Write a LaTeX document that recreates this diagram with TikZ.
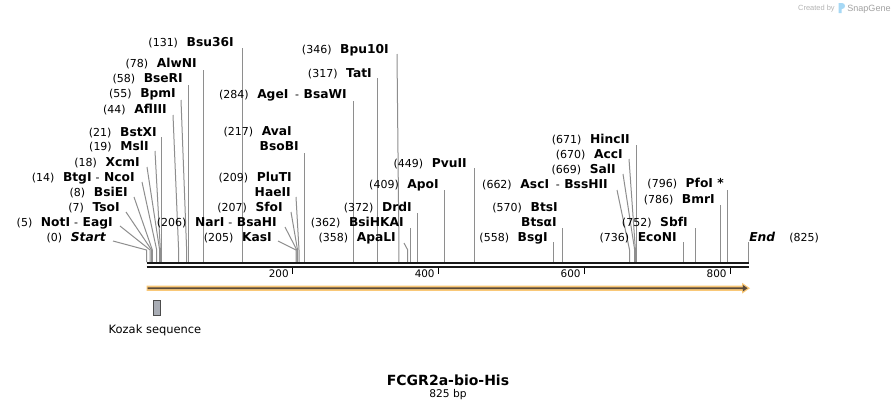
\documentclass[tikz,border=0pt]{standalone}
\usepackage{fontspec}
\setmainfont{DejaVu Sans}
\newfontfamily\libsans{Liberation Sans}
\definecolor{cutgray}{HTML}{8E8E8E}
\definecolor{featorange}{HTML}{F9C878}
\definecolor{featdark}{HTML}{5A4A3A}
\definecolor{kozakfill}{HTML}{A9ADB5}
\definecolor{logogray}{HTML}{B4B4B4}
\definecolor{logoblue}{HTML}{A6D8F5}
\newcommand\nm[1]{{\fontsize{9.2}{10}\selectfont\bfseries #1}}
\newcommand\vcut[3]{%
  \coordinate (t#1) at ({146.5+#2*0.7297},#3);
  \coordinate (b#1) at ({146.5+#2*0.7297},262);
  \draw[cutline] (t#1) -- (b#1);}
\newcommand\scut[4]{%
  \coordinate (t#1) at (#3,#4);
  \coordinate (m#1) at ({146.5+#2*0.7297},250);
  \coordinate (b#1) at ({146.5+#2*0.7297},262);
  \draw[cutline] (t#1) -- (m#1) -- (b#1);}
\newcommand\enz[5]{%
  \node[lab] (l#1) at (#4,{#5+4.3}) {(#2)\hspace{6.5pt}#3};}
\newcommand\sub[4]{%
  \node[lab] (l#1) at (#3,{#4+4.3}) {\nm{#2}};}
\begin{document}
\begin{tikzpicture}[x=0.75pt,y=-0.75pt,
  lab/.style={anchor=base east,inner sep=0pt,font=\fontsize{8.25}{10}\selectfont},
  cutline/.style={draw=cutgray,line width=0.75pt},
  barline/.style={draw=black!90,line width=1.9pt},
  ticks/.style={draw=black,line width=1.1pt},
  ticklab/.style={anchor=base east,inner sep=0pt,font=\fontsize{7.8}{9}\selectfont},
]
\useasboundingbox (0,0) rectangle (896,411);
\fill[white] (0,0) rectangle (896,411);

% ---- cut lines ----
\vcut{bsu}{131}{48}
\vcut{alw}{78}{70}
\vcut{bse}{58}{85}
\scut{bpm}{55}{181}{100}
\scut{afl}{44}{173}{115}
\vcut{bst}{21}{137}
\scut{msl}{19}{155}{151}
\scut{xcm}{18}{147}{167}
\scut{btg}{14}{142}{182}
\scut{bsie}{8}{134}{197}
\scut{tso}{7}{126}{212}
\scut{not}{5}{120}{226}
\scut{start}{0}{113}{241}
\scut{bpu}{346}{397}{54}
\vcut{tat}{317}{78}
\vcut{age}{284}{101}
\vcut{ava}{217}{153}
\scut{plu}{209}{296}{197}
\scut{sfo}{207}{291}{212}
\scut{nar}{206}{285}{227}
\scut{kas}{205}{278}{241}
\vcut{pvu}{449}{168}
\vcut{apo}{409}{190}
\vcut{drd}{372}{213}
\vcut{bsih}{362}{228}
\scut{apa}{358}{404}{243}
\vcut{hinc}{671}{145}
\scut{acc}{670}{629}{159}
\scut{sal}{669}{623}{174}
\scut{asc}{662}{617}{190}
\vcut{bts}{570}{228}
\vcut{bsg}{558}{242}
\vcut{pfo}{796}{190}
\vcut{bmr}{786}{205}
\vcut{sbf}{752}{228}
\vcut{eco}{736}{242}
\vcut{end}{825}{242}

% ---- labels ----
\enz{bsu}{131}{\nm{Bsu36I}}{234}{42}
\enz{alw}{78}{\nm{AlwNI}}{197}{63}
\enz{bse}{58}{\nm{BseRI}}{183}{78}
\enz{bpm}{55}{\nm{BpmI}}{176}{93}
\enz{afl}{44}{\nm{AflIII}}{167}{109}
\enz{bst}{21}{\nm{BstXI}}{157}{132}
\enz{msl}{19}{\nm{MslI}}{149}{146}
\enz{xcm}{18}{\nm{XcmI}}{140}{162}
\enz{btg}{14}{\nm{BtgI}\hspace{3pt}-\hspace{3.5pt}\nm{NcoI}}{135}{177}
\enz{bsie}{8}{\nm{BsiEI}}{128}{192}
\enz{tso}{7}{\nm{TsoI}}{120}{207}
\enz{not}{5}{\nm{NotI}\hspace{3pt}-\hspace{3.5pt}\nm{EagI}}{113}{222}
\enz{start}{0}{\nm{\itshape Start}}{106}{237}

\enz{bpu}{346}{\nm{Bpu10I}}{389}{49}
\enz{tat}{317}{\nm{TatI}}{372}{73}
\enz{age}{284}{\nm{AgeI}\hspace{5pt}-\hspace{3.5pt}\nm{BsaWI}}{347}{94}
\enz{ava}{217}{\nm{AvaI}}{292}{131}
\sub{bso}{BsoBI}{299}{146}
\enz{plu}{209}{\nm{PluTI}}{292}{177}
\sub{hae}{HaeII}{291}{192}
\enz{sfo}{207}{\nm{SfoI}}{283}{207}
\enz{nar}{206}{\nm{NarI}\hspace{3pt}-\hspace{3.5pt}\nm{BsaHI}}{277}{222}
\enz{kas}{205}{\nm{KasI}}{272}{237}
\enz{pvu}{449}{\nm{PvuII}}{467}{163}
\enz{apo}{409}{\nm{ApoI}}{439}{184}
\enz{drd}{372}{\nm{DrdI}}{412}{207}
\enz{bsih}{362}{\nm{BsiHKAI}}{404}{222}
\enz{apa}{358}{\nm{ApaLI}}{396}{237}

\enz{hinc}{671}{\nm{HincII}}{630}{139}
\enz{acc}{670}{\nm{AccI}}{623}{154}
\enz{sal}{669}{\nm{SalI}}{616}{169}
\enz{asc}{662}{\nm{AscI}\hspace{5pt}-\hspace{3.5pt}\nm{BssHII}}{608}{184}
\enz{bts}{570}{\nm{BtsI}}{558}{207}
\sub{btsa}{BtsαI}{557}{222}
\enz{bsg}{558}{\nm{BsgI}}{548}{237}
\enz{pfo}{796}{\nm{PfoI *}}{724}{183}
\enz{bmr}{786}{\nm{BmrI}}{715}{199}
\enz{sbf}{752}{\nm{SbfI}}{688}{222}
\enz{eco}{736}{\nm{EcoNI}}{677}{237}
\node[lab,anchor=base west] (lend) at (749,241.3) {\nm{\itshape End}};
\node[lab,anchor=base west] (lendn) at (789,241.3) {(825)};

% ---- sequence bar ----
\coordinate (barL) at (146.5,262.8);
\coordinate (barR) at (749,262.8);
\draw[barline] (barL) -- (barR);
\draw[barline,line width=1.7pt] (146.5,266.8) -- (749,266.8);
\foreach \v in {200,400,600,800}{
  \coordinate (k\v) at ({146.5+\v*0.7297},268);
  \coordinate (kk\v) at ({146.5+\v*0.7297},274);
  \draw[ticks] (k\v) -- (kk\v);
  \node[ticklab] (n\v) at ({146.5+\v*0.7297-3.5},277.8) {\v};
}

% ---- feature arrow ----
\fill[featorange] (146.5,285.6) -- (742,285.6) -- (742,282.8) -- (750,288.2) -- (742,293.6) -- (742,290.8) -- (146.5,290.8) -- cycle;
\fill[featdark] (147.5,287.3) -- (742.8,287.3) -- (742.8,284.9) -- (747.6,288.2) -- (742.8,291.5) -- (742.8,289.1) -- (147.5,289.1) -- cycle;

% ---- Kozak ----
\draw[draw=black!70,fill=kozakfill,line width=0.75pt] (153.5,300.5) rectangle (160.5,315.5);
\coordinate (koz) at (157,308);
\node[inner sep=0pt,font=\fontsize{8.6}{10}\selectfont] (kozlab) at (155,330) {Kozak sequence};

% ---- title ----
\node[inner sep=0pt,font=\fontsize{10.5}{12}\selectfont\bfseries] (title) at (448,380) {FCGR2a-bio-His};
\node[inner sep=0pt,font=\fontsize{8}{9}\selectfont] (len) at (448,395) {825 bp};

% ---- logo ----
\node[inner sep=0pt,anchor=base east,font=\libsans\fontsize{5.6}{6}\selectfont,text=logogray] (cby) at (835,10) {Created by};
\fill[logoblue] (838.5,13) -- (838.5,3) -- (842,3) .. controls (846,3) and (846,9) .. (842,9) -- (841.5,9) -- (841.5,13) -- cycle;
\node[inner sep=0pt,anchor=base west,font=\libsans\fontsize{6.8}{8}\selectfont,text=logogray!90!black] (sg) at (847,11) {SnapGene};
\end{tikzpicture}
\end{document}
